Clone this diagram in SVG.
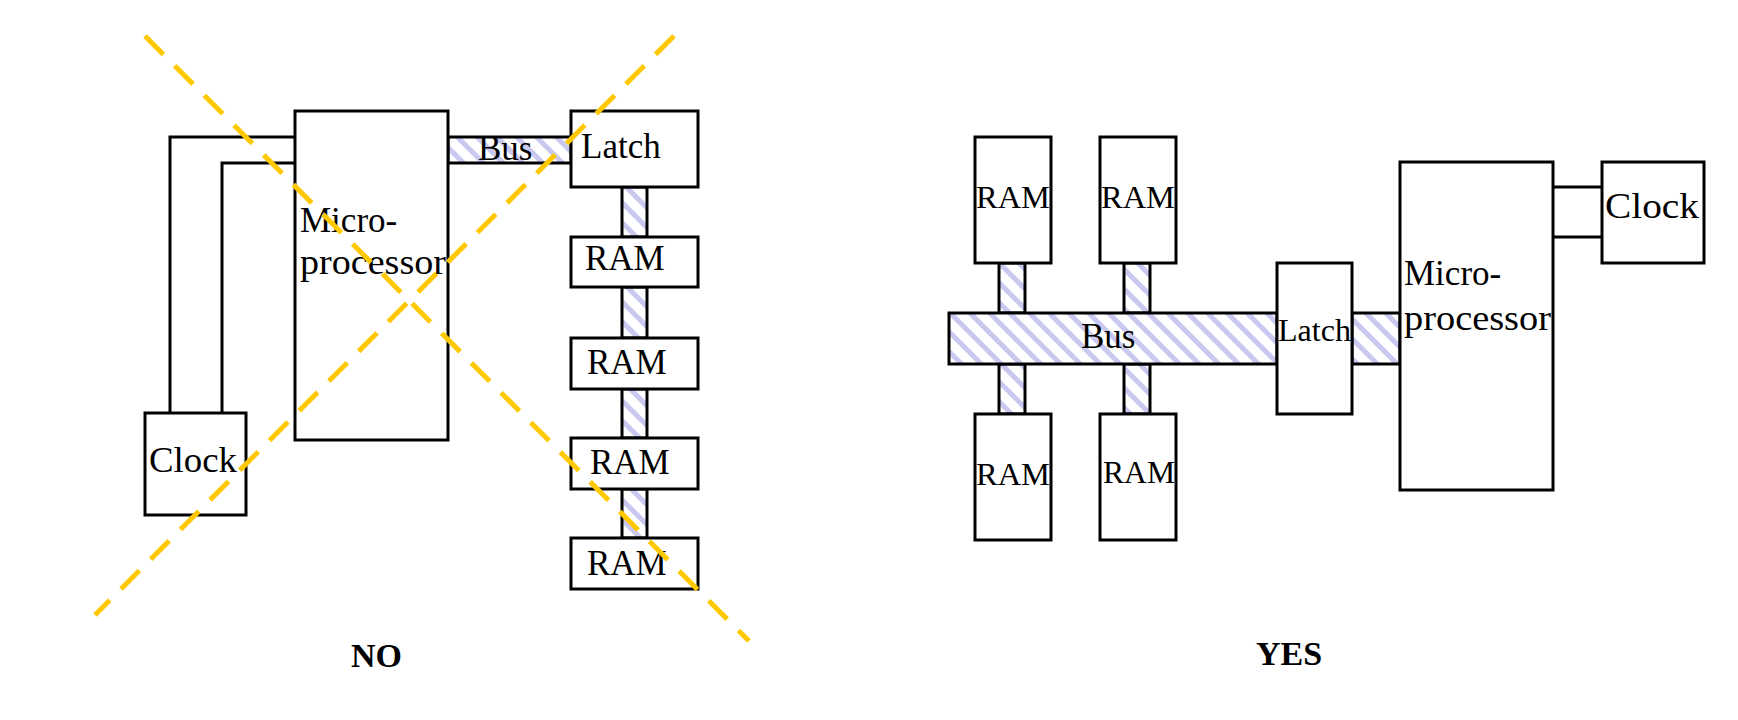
<svg xmlns="http://www.w3.org/2000/svg" width="1738" height="720" viewBox="0 0 1738 720">
<style>
.box{fill:#fff;stroke:#000;stroke-width:3}
.bus{fill:url(#hatch);stroke:#000;stroke-width:3}
.ln{fill:none;stroke:#000;stroke-width:3}
.t{font-family:"Liberation Serif",serif;font-size:35px;fill:#000}
.ts{font-family:"Liberation Serif",serif;font-size:32px;fill:#000}
.big{font-family:"Liberation Serif",serif;font-size:34px;font-weight:bold;fill:#000}
.x{stroke:#FFC800;stroke-width:5;stroke-dasharray:26 16;fill:none}
</style>
<defs>
<pattern id="hatch" width="14" height="14" patternUnits="userSpaceOnUse" patternTransform="rotate(-45)">
<rect width="14" height="14" fill="#fff"/>
<rect width="5" height="14" fill="#c8c8f0"/>
</pattern>
</defs>
<g id="connectors">
<polyline class="ln" points="170,413 170,137 295,137"/>
<polyline class="ln" points="222,413 222,163 295,163"/>
<rect class="bus" x="448" y="137" width="123" height="26"/>
<rect class="bus" x="622" y="187" width="25" height="50"/>
<rect class="bus" x="622" y="287" width="25" height="51"/>
<rect class="bus" x="622" y="389" width="25" height="49"/>
<rect class="bus" x="622" y="489" width="25" height="49"/>
<rect class="bus" x="999" y="263" width="26" height="50"/>
<rect class="bus" x="1124" y="263" width="26" height="50"/>
<rect class="bus" x="999" y="364" width="26" height="50"/>
<rect class="bus" x="1124" y="364" width="26" height="50"/>
<rect class="bus" x="1352" y="313" width="48" height="51"/>
<line class="ln" x1="1553" y1="187" x2="1602" y2="187"/>
<line class="ln" x1="1553" y1="237" x2="1602" y2="237"/>
</g>
<g id="l-micro"><rect class="box" x="295" y="111" width="153" height="329"/><text class="t" x="300" y="232">Micro-</text><text class="t" x="300" y="274" textLength="146" lengthAdjust="spacingAndGlyphs">processor</text></g>
<g id="l-clock"><rect class="box" x="145" y="413" width="101" height="102"/><text class="t" x="149" y="472" textLength="88" lengthAdjust="spacingAndGlyphs">Clock</text></g>
<text class="t" x="478" y="160">Bus</text>
<g id="l-latch"><rect class="box" x="571" y="111" width="127" height="76"/><text class="t" x="581" y="158">Latch</text></g>
<g id="l-ram1"><rect class="box" x="571" y="237" width="127" height="50"/><text class="t" x="585" y="270">RAM</text></g>
<g id="l-ram2"><rect class="box" x="571" y="338" width="127" height="51"/><text class="t" x="587" y="374">RAM</text></g>
<g id="l-ram3"><rect class="box" x="571" y="438" width="127" height="51"/><text class="t" x="590" y="474">RAM</text></g>
<g id="l-ram4"><rect class="box" x="571" y="538" width="127" height="51"/><text class="t" x="587" y="575">RAM</text></g>
<g id="r-bus"><rect class="bus" x="949" y="313" width="328" height="51"/><text class="t" x="1081" y="348">Bus</text></g>
<g id="r-ram1"><rect class="box" x="975" y="137" width="76" height="126"/><text class="ts" x="976" y="208" textLength="74" lengthAdjust="spacingAndGlyphs">RAM</text></g>
<g id="r-ram2"><rect class="box" x="1100" y="137" width="76" height="126"/><text class="ts" x="1101" y="208" textLength="74" lengthAdjust="spacingAndGlyphs">RAM</text></g>
<g id="r-ram3"><rect class="box" x="975" y="414" width="76" height="126"/><text class="ts" x="976" y="485" textLength="74" lengthAdjust="spacingAndGlyphs">RAM</text></g>
<g id="r-ram4"><rect class="box" x="1100" y="414" width="76" height="126"/><text class="ts" x="1103" y="483" textLength="72" lengthAdjust="spacingAndGlyphs">RAM</text></g>
<g id="r-latch"><rect class="box" x="1277" y="263" width="75" height="151"/><text class="ts" x="1278" y="341" textLength="73" lengthAdjust="spacingAndGlyphs">Latch</text></g>
<g id="r-micro"><rect class="box" x="1400" y="162" width="153" height="328"/><text class="t" x="1404" y="285">Micro-</text><text class="t" x="1404" y="330" textLength="147" lengthAdjust="spacingAndGlyphs">processor</text></g>
<g id="r-clock"><rect class="box" x="1602" y="162" width="102" height="101"/><text class="t" x="1605" y="218" textLength="94" lengthAdjust="spacingAndGlyphs">Clock</text></g>
<g id="cross"><line class="x" x1="145" y1="36" x2="749" y2="641"/><line class="x" x1="674" y1="36" x2="95" y2="615"/></g>
<text class="big" x="351" y="667">NO</text>
<text class="big" x="1256" y="665">YES</text>
</svg>
